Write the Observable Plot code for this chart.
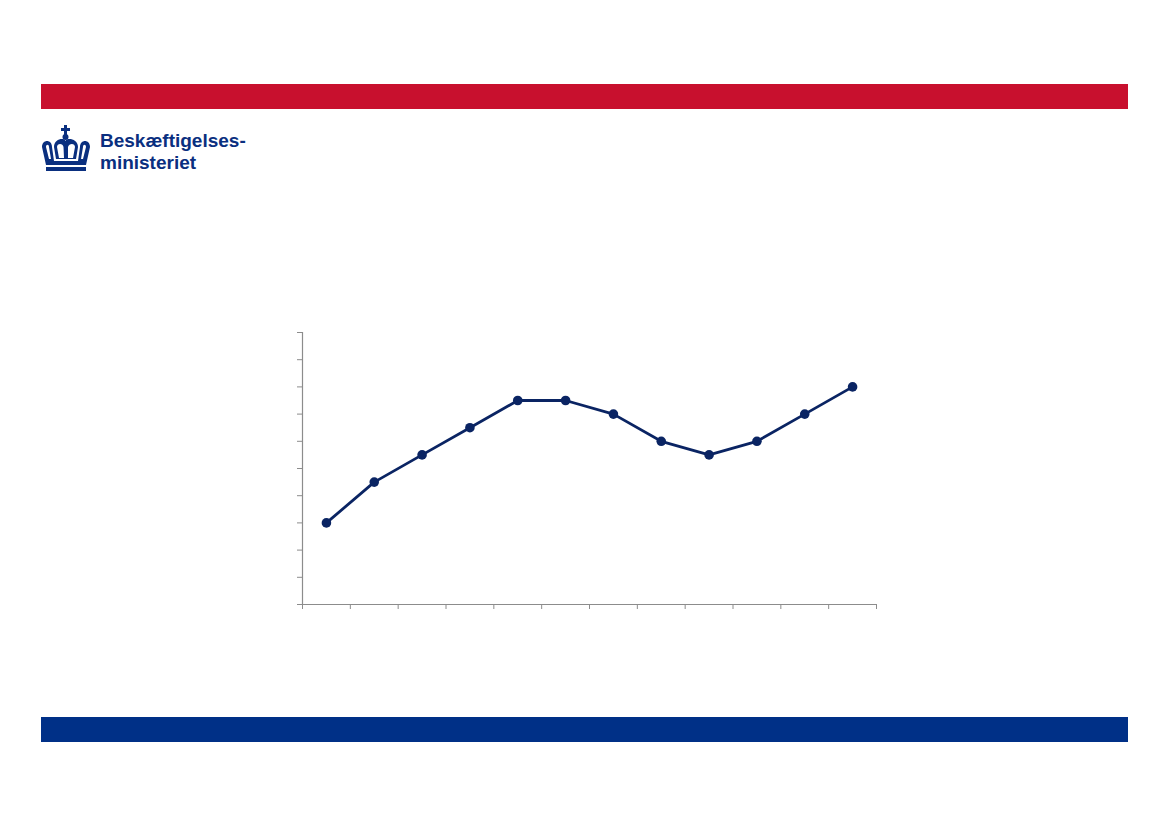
<!DOCTYPE html>
<html><head><meta charset="utf-8">
<script src="https://cdn.jsdelivr.net/npm/d3@7"></script>
<script src="https://cdn.jsdelivr.net/npm/@observablehq/plot@0.6"></script>
<style>
html,body{margin:0;padding:0;background:#fff;}
#page{position:relative;width:1169px;height:827px;overflow:hidden;}
.bar{position:absolute;left:41px;width:1087px;height:25px;}
#red{top:84px;background:#c8102e;}
#blue{top:717px;background:#003087;}
#logo{position:absolute;left:40px;top:125px;}
.lt{position:absolute;left:100px;font-family:"Liberation Sans",Arial,sans-serif;font-weight:700;font-size:19px;line-height:22px;height:22px;color:#0a2f7f;white-space:nowrap;}
#lt1{top:130px;}
#lt2{top:152px;}
#chart{position:absolute;left:282px;top:322px;}
</style></head>
<body><div id="page">
<div class="bar" id="red"></div>
<div id="logo"><svg width="52" height="48" viewBox="0 0 52 48">
<g fill="#0a2f7f">
<rect x="24" y="0" width="3" height="10"/><rect x="21" y="3" width="9" height="3"/>
<circle cx="25.5" cy="12" r="3"/>
<path d="M2,22 C2,14 12,14 12,22 L14,36 L38,36 L40,22 C40,14 50,14 50,22 L46,40 L6,40 Z M6,22 C6,19 9,19 9,22 L11,34 L9,34 Z M43,22 C43,19 46,19 46,22 L43,34 L41,34 Z" fill-rule="evenodd"/>
<path d="M14,22 C14,14 24,12 25.5,16 C27,12 38,14 38,22 L36,34 L16,34 Z M17,22 C17,18 23,18 23.5,22 L24,33 L19,33 Z M28,22 C29,18 35,18 35,22 L33,33 L28,33 Z" fill-rule="evenodd"/>
<rect x="6" y="42" width="40" height="4"/>
</g></svg></div>
<div class="lt" id="lt1">Beskæftigelses-</div>
<div class="lt" id="lt2">ministeriet</div>
<div id="chart"></div>
<div class="bar" id="blue"></div>
</div>
<script>
const categories = ["1","2","3","4","5","6","7","8","9","10","11","12"];
const values = [3.0, 4.5, 5.5, 6.5, 7.5, 7.5, 7.0, 6.0, 5.5, 6.0, 7.0, 8.0];
const yTicks = [0,1,2,3,4,5,6,7,8,9,10];
const xTicks = d3.range(categories.length + 1);

const data = categories.map((c, i) => ({cat: c, idx: i + 0.5, value: values[i]}));
const axisColor = "#8c8c8c";
const lineColor = "#0a2463";

const chart = Plot.plot({
  width: 610, height: 300,
  marginLeft: 20, marginRight: 16, marginTop: 10, marginBottom: 18,
  x: {type: "linear", domain: [0, categories.length], axis: null},
  y: {domain: [0, 10], axis: null},
  marks: [
    Plot.axisY({ticks: yTicks, tickFormat: () => "", tickSize: 5, stroke: axisColor, label: null}),
    Plot.axisX({ticks: xTicks, tickFormat: () => "", tickSize: 5, stroke: axisColor, label: null}),
    Plot.ruleX([0], {stroke: axisColor, strokeWidth: 1.2}),
    Plot.ruleY([0], {stroke: axisColor, strokeWidth: 1.2, x1: -0.06, x2: categories.length}),
    Plot.line(data, {x: "idx", y: "value", stroke: lineColor, strokeWidth: 2.8}),
    Plot.dot(data, {x: "idx", y: "value", fill: lineColor, r: 4.8})
  ]
});
document.getElementById("chart").appendChild(chart);
</script>
</body></html>
